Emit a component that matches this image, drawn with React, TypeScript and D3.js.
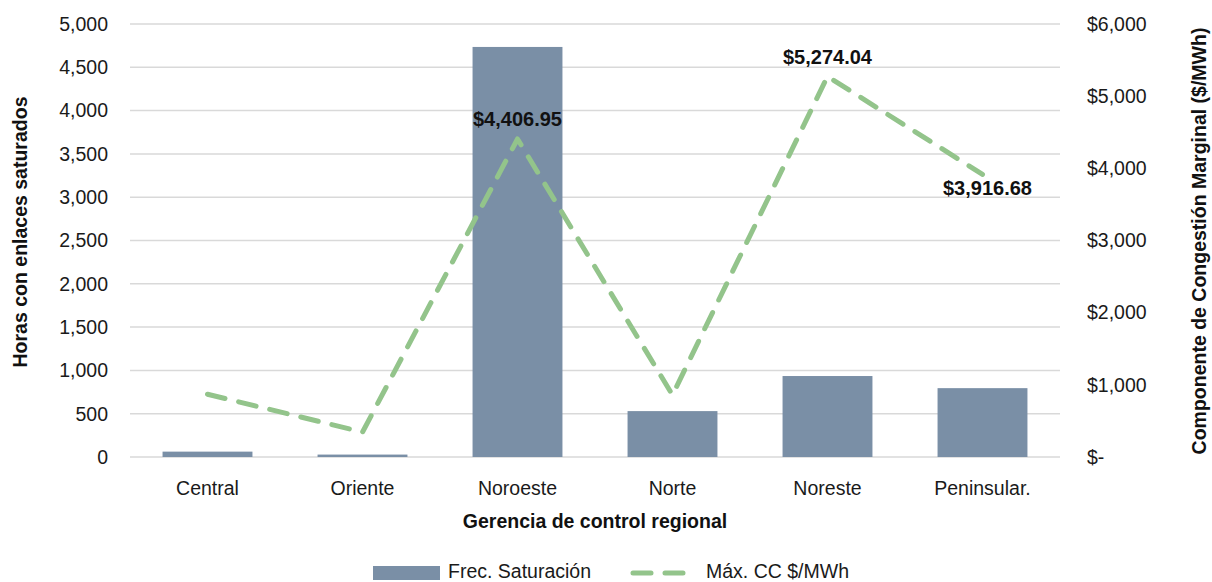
import React from "react";
import * as d3 from "d3";

const categories = ["Central", "Oriente", "Noroeste", "Norte", "Noreste", "Peninsular."];
const frecSaturacion = [62, 28, 4735, 530, 935, 795];
const maxCC = [870, 345, 4406.95, 860, 5274.04, 3916.68];
const leftTicks = [0, 500, 1000, 1500, 2000, 2500, 3000, 3500, 4000, 4500, 5000];
const rightTicks = [0, 1000, 2000, 3000, 4000, 5000, 6000];
const labeledIdx = [2, 4, 5];

const W = 1212, H = 582;
const left = 130, right = 1060, top = 24, bottom = 457;
const font = "'Liberation Sans', Arial, sans-serif";
const fs = 19.5;

export default function App() {
  const x = d3.scaleBand<string>().domain(categories).range([left, right]).paddingInner(0.42).paddingOuter(0.21);
  const yL = d3.scaleLinear().domain([0, 5000]).range([bottom, top]);
  const yR = d3.scaleLinear().domain([0, 6000]).range([bottom, top]);
  const cx = (c: string) => (x(c) as number) + x.bandwidth() / 2;
  const line = d3.line<number>().x((_, i) => cx(categories[i])).y((d) => yR(d));
  const fmtL = d3.format(",");
  const fmtR = (v: number) => (v === 0 ? "$-" : "$" + d3.format(",")(v));
  const fmtLab = (v: number) => "$" + d3.format(",.2f")(v);
  const labelOffsets: Record<number, [number, number]> = { 2: [0, -13], 4: [0, -12], 5: [5, 21] };
  return (
    <svg width={W} height={H} style={{ position: "absolute", left: 0, top: 0, background: "#fff" }} fontFamily={font}>
      {leftTicks.map((t) => (
        <line key={t} x1={left} x2={right} y1={yL(t)} y2={yL(t)} stroke="#d9d9d9" strokeWidth={1.5} />
      ))}
      {leftTicks.map((t) => (
        <text key={"l" + t} x={108} y={yL(t)} dy="0.35em" textAnchor="end" fontSize={fs} fill="#1a1a1a">{fmtL(t)}</text>
      ))}
      {rightTicks.map((t) => (
        <text key={"r" + t} x={1087} y={yR(t)} dy="0.35em" textAnchor="start" fontSize={fs} fill="#1a1a1a">{fmtR(t)}</text>
      ))}
      {categories.map((c, i) => (
        <rect key={c} x={x(c)} y={yL(frecSaturacion[i])} width={x.bandwidth()} height={bottom - yL(frecSaturacion[i])} fill="#7a8fa6" />
      ))}
      <path d={line(maxCC) || ""} fill="none" stroke="#93c48b" strokeWidth={5} strokeDasharray="18 14" strokeLinecap="round" strokeLinejoin="round" />
      {labeledIdx.map((i) => (
        <text key={"lab" + i} x={cx(categories[i]) + labelOffsets[i][0]} y={yR(maxCC[i]) + labelOffsets[i][1]} textAnchor="middle" fontSize={20} fontWeight="bold" fill="#111">{fmtLab(maxCC[i])}</text>
      ))}
      {categories.map((c) => (
        <text key={"c" + c} x={cx(c)} y={495} textAnchor="middle" fontSize={fs} fill="#1a1a1a">{c}</text>
      ))}
      <text x={595} y={528} textAnchor="middle" fontSize={fs} fontWeight="bold" fill="#111">Gerencia de control regional</text>
      <text transform={`translate(27,232) rotate(-90)`} textAnchor="middle" fontSize={fs} fontWeight="bold" fill="#111">Horas con enlaces saturados</text>
      <text transform={`translate(1206,241) rotate(-90)`} textAnchor="middle" fontSize={fs} fontWeight="bold" fill="#111">Componente de Congestión Marginal ($/MWh)</text>
      <rect x={373} y={566} width={67} height={14} fill="#7a8fa6" />
      <text x={448} y={578} fontSize={fs} fill="#1a1a1a">Frec. Saturación</text>
      <line x1={633} x2={684} y1={573} y2={573} stroke="#93c48b" strokeWidth={5} strokeDasharray="18 14" strokeLinecap="round" />
      <text x={706} y={578} fontSize={fs} fill="#1a1a1a">Máx. CC $/MWh</text>
    </svg>
  );
}
